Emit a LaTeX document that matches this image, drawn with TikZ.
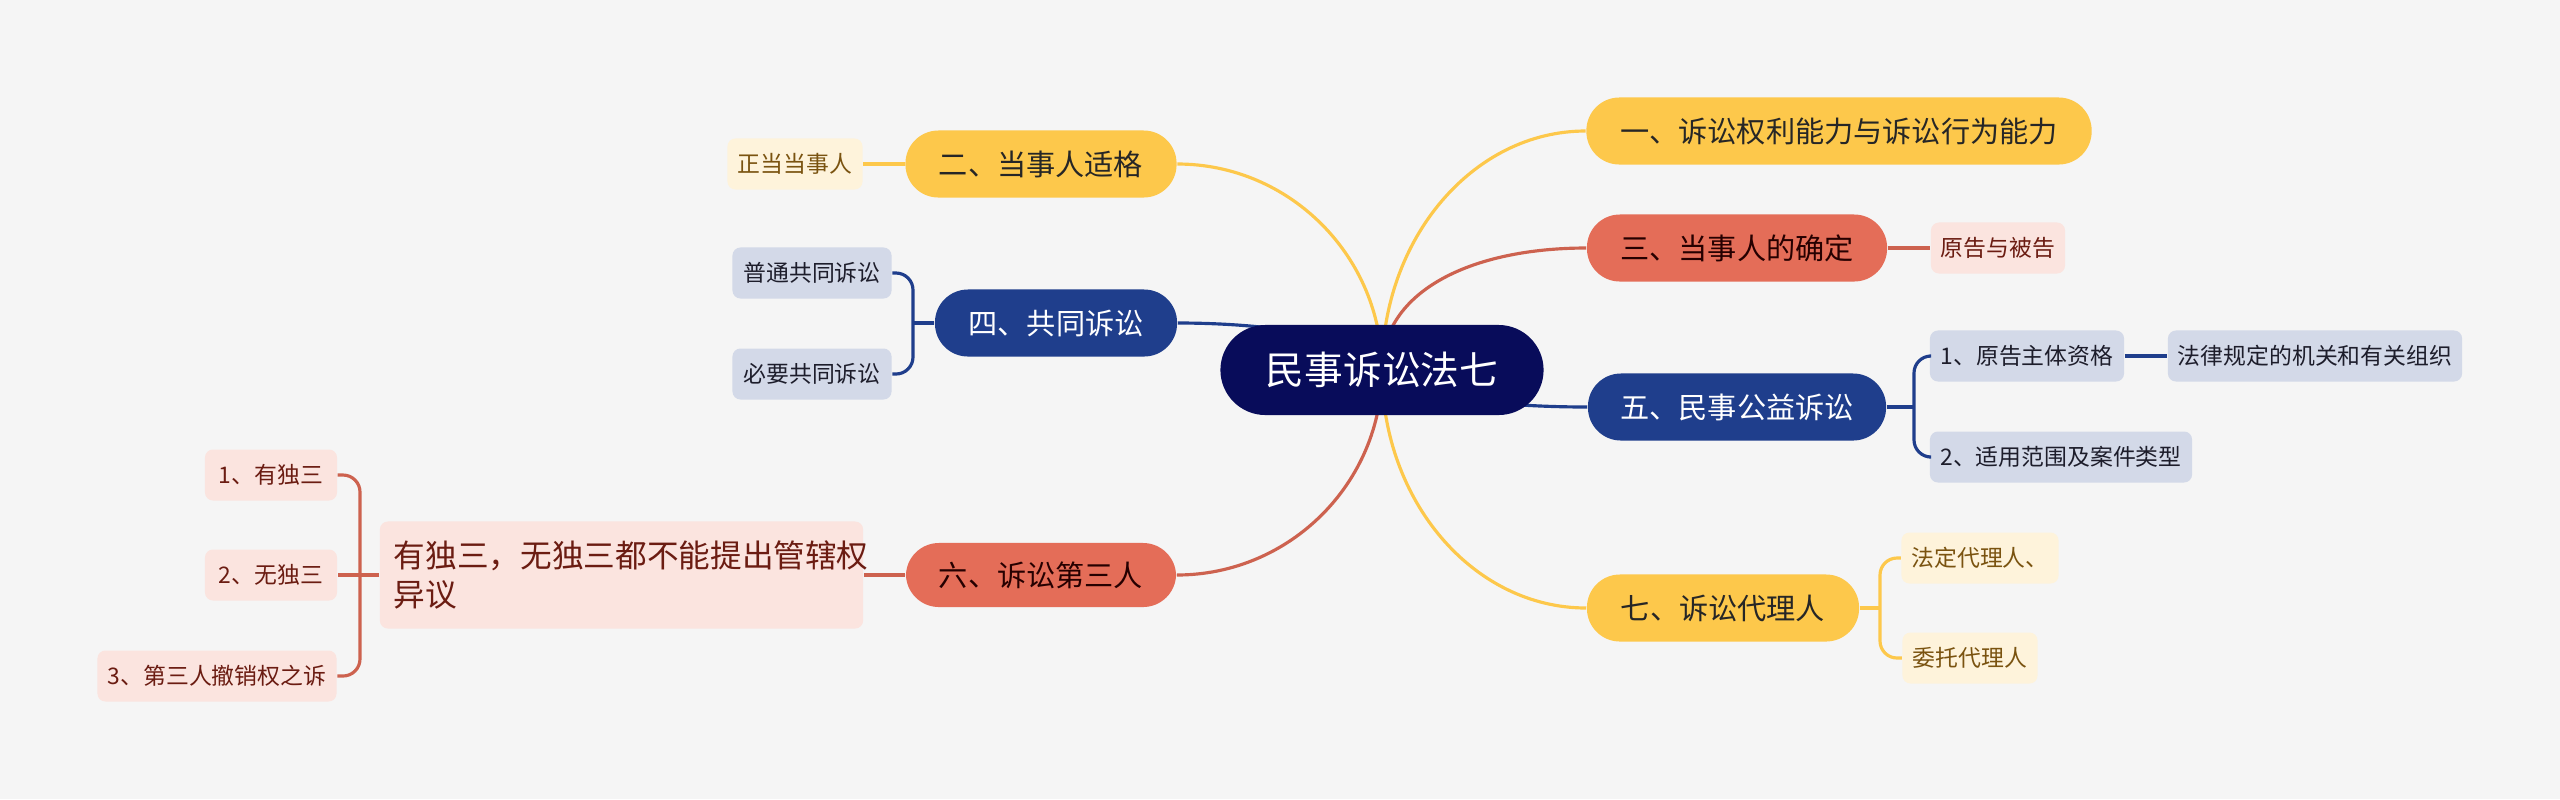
\documentclass[tikz,border=0pt]{standalone}
\usepackage{fontspec}
\setmainfont{Noto Sans CJK SC}

\definecolor{hgrund}{HTML}{F5F5F5}
\definecolor{wurzel}{HTML}{080C5A}
\definecolor{gelb}{HTML}{FDC84B}
\definecolor{rot}{HTML}{E46D58}
\definecolor{blau}{HTML}{1F3E8C}
\definecolor{gelbhell}{HTML}{FEF3DB}
\definecolor{rothell}{HTML}{FBE4DF}
\definecolor{blauhell}{HTML}{D3D9E8}
\definecolor{gelbtext}{HTML}{7A5310}
\definecolor{rottext}{HTML}{6B1C12}
\definecolor{blautext}{HTML}{1D1D2B}

\begin{document}
\begin{tikzpicture}[x=0.01cm,y=-0.01cm,
    root/.style={fill=wurzel,text=white,rounded corners=0.45cm,minimum height=0.9cm,
      font=\fontsize{11pt}{13pt}\selectfont,inner sep=0pt},
    ast/.style={rounded corners=0.33cm,minimum height=0.67cm,inner sep=0pt,
      font=\fontsize{8.3pt}{10pt}\selectfont},
    astY/.style={ast,fill=gelb,text=black!85},
    astR/.style={ast,fill=rot,text=black!85!red},
    astB/.style={ast,fill=blau,text=white},
    blatt/.style={rounded corners=0.08cm,minimum height=0.51cm,inner sep=0pt,
      font=\fontsize{6.5pt}{8pt}\selectfont},
    blattY/.style={blatt,fill=gelbhell,text=gelbtext},
    blattR/.style={blatt,fill=rothell,text=rottext},
    blattB/.style={blatt,fill=blauhell,text=blautext},
    linkY/.style={draw=gelb,line width=0.9pt},
    linkR/.style={draw=rot!90!black,line width=0.9pt},
    linkB/.style={draw=blau,line width=0.9pt},
    klammer/.style={rounded corners=1.7mm}]
%
% Hintergrund
\fill[hgrund] (0,0) rectangle (2560,799);
%
% ============ Hauptknoten und Äste ============
\node[astY,minimum width=5.05cm] (n1) at (1839,131) {一、诉讼权利能力与诉讼行为能力};
\node[astY,minimum width=2.71cm] (n2) at (1041,164) {二、当事人适格};
\node[astR,minimum width=3.00cm] (n3) at (1737,248) {三、当事人的确定};
\node[astB,minimum width=2.42cm] (n4) at (1056,323) {四、共同诉讼};
\node[astB,minimum width=2.98cm] (n5) at (1737,407) {五、民事公益诉讼};
\node[astR,minimum width=2.70cm,minimum height=0.64cm] (n6) at (1041,575) {六、诉讼第三人};
\node[astY,minimum width=2.72cm] (n7) at (1723,608) {七、诉讼代理人};
%
\coordinate (mitte) at (1382,370);
% Verbindungen zur Mitte (werden vom Wurzelknoten verdeckt)
\draw[linkY] (mitte) .. controls +(0,-131) and +(-113,0) .. (n1.west);
\draw[linkY] (mitte) .. controls +(0,-113) and +(113,0) .. (n2.east);
\draw[linkR] (mitte) .. controls +(0,-80) and +(-113,0) .. (n3.west);
\draw[linkB] (mitte) .. controls +(0,-26) and +(113,0) .. (n4.east);
\draw[linkB] (mitte) .. controls +(0,20) and +(-113,0) .. (n5.west);
\draw[linkR] (mitte) .. controls +(0,113) and +(113,0) .. (n6.east);
\draw[linkY] (mitte) .. controls +(0,131) and +(-113,0) .. (n7.west);
%
\node[root,minimum width=3.23cm] (root) at (mitte) {民事诉讼法七};
%
% ============ Blätter ============
% zwei
\node[blattY,minimum width=1.35cm] (l2) at (795,164) {正当当事人};
\draw[linkY] (n2.west) -- (l2.east);
% drei
\node[blattR,minimum width=1.34cm] (l3) at (1998,248) {原告与被告};
\draw[linkR] (n3.east) -- (l3.west);
% vier
\node[blattB,minimum width=1.59cm] (l4a) at (812,273) {普通共同诉讼};
\node[blattB,minimum width=1.59cm] (l4b) at (812,374) {必要共同诉讼};
\coordinate (j4) at (913,323);
\draw[linkB] (n4.west) -- (j4);
\draw[linkB,klammer] (l4a.east) -| (j4) |- (l4b.east);
% fünf
\node[blattB,minimum width=1.94cm] (l5a) at (2027,356) {1、原告主体资格};
\node[blattB,minimum width=2.94cm] (l5c) at (2315,356) {法律规定的机关和有关组织};
\node[blattB,minimum width=2.62cm] (l5b) at (2061,457) {2、适用范围及案件类型};
\coordinate (j5) at (1914,407);
\draw[linkB] (n5.east) -- (j5);
\draw[linkB,klammer] (l5a.west) -| (j5) |- (l5b.west);
\draw[linkB,line width=1.1pt] (l5a.east) -- (l5c.west);
% sechs
\node[blattR,minimum height=1.07cm,text width=4.55cm,align=left,inner xsep=0.14cm,
  font=\fontsize{9pt}{11.3pt}\selectfont] (l6) at (621.5,575) {有独三，无独三都不能提出管辖权\\异议};
\draw[linkR] (n6.west) -- (l6.east);
\node[blattR,minimum width=1.32cm] (l6a) at (271,475) {1、有独三};
\node[blattR,minimum width=1.32cm] (l6b) at (271,575) {2、无独三};
\node[blattR,minimum width=2.39cm] (l6c) at (217,676) {3、第三人撤销权之诉};
\coordinate (j6) at (360,575);
\draw[linkR] (l6.west) -- (l6b.east);
\draw[linkR,klammer] (l6a.east) -| (j6) |- (l6c.east);
% sieben
\node[blattY,minimum width=1.57cm] (l7a) at (1980,558) {法定代理人、};
\node[blattY,minimum width=1.35cm] (l7b) at (1970,658) {委托代理人};
\coordinate (j7) at (1880,608);
\draw[linkY] (n7.east) -- (j7);
\draw[linkY,klammer] (l7a.west) -| (j7) |- (l7b.west);
%
\end{tikzpicture}
\end{document}
